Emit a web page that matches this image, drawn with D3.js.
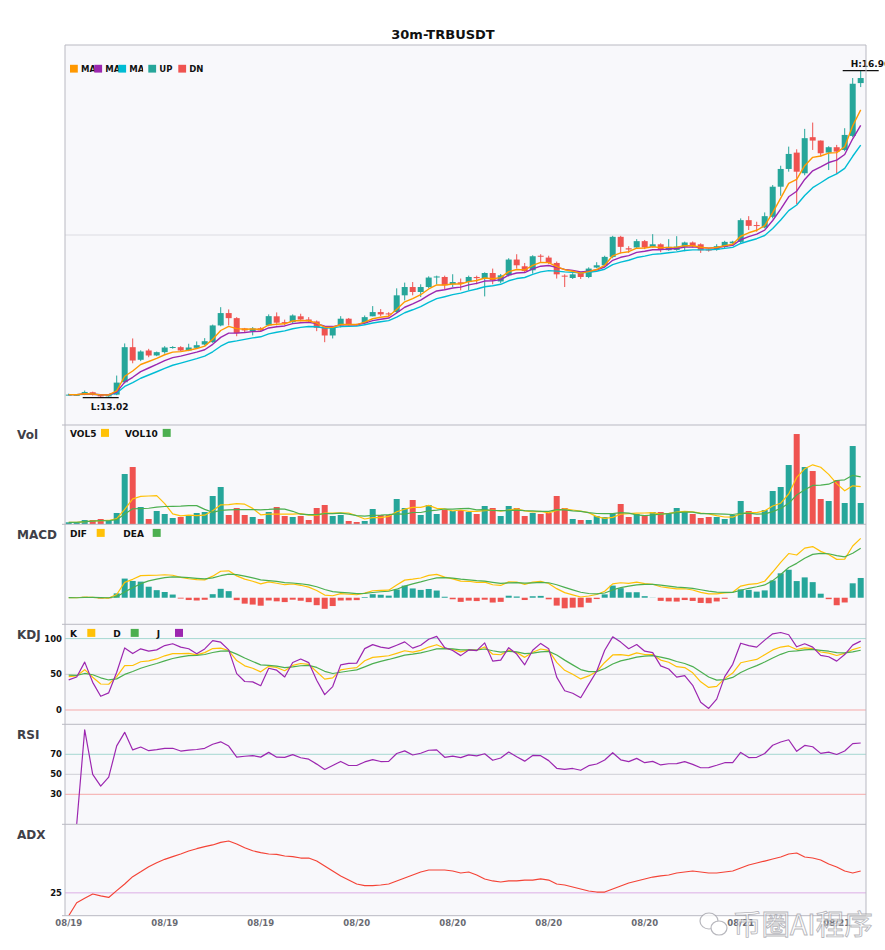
<!DOCTYPE html>
<html>
<head>
<meta charset="utf-8">
<script src="https://cdn.jsdelivr.net/npm/d3@7"></script>
<style>
  body { margin: 0; background: #fff; }
  svg { display: block; font-family: "DejaVu Sans", sans-serif; }
</style>
</head>
<body>
<svg id="chart" width="885" height="950"></svg>
<script>
// ---- data (30m candles, TRBUSDT) ----
const symbolTitle = "30m-TRBUSDT";

const opens = [13.052,13.050,13.056,13.085,13.052,13.035,13.056,13.205,13.628,13.476,
  13.588,13.528,13.568,13.624,13.628,13.588,13.620,13.660,13.688,13.890,
  14.039,13.978,13.854,13.818,13.856,13.890,14.000,13.930,13.930,14.000,
  13.962,13.938,13.862,13.769,13.890,13.971,13.905,13.918,14.000,14.051,
  14.035,14.051,14.253,14.353,14.293,14.353,14.470,14.474,14.386,14.410,
  14.413,14.474,14.454,14.522,14.420,14.494,14.684,14.603,14.555,14.730,
  14.708,14.643,14.490,14.462,14.522,14.474,14.588,14.615,14.716,14.958,
  14.820,14.830,14.906,14.837,14.868,14.797,14.800,14.837,14.890,14.868,
  14.805,14.805,14.837,14.880,14.897,15.159,15.100,15.070,15.199,15.562,
  15.776,15.973,15.724,16.159,16.118,15.973,16.038,16.005,16.174,16.811];

const highs = [13.068,13.062,13.105,13.092,13.056,13.060,13.286,13.673,13.733,13.590,
  13.608,13.575,13.640,13.640,13.640,13.669,13.697,13.737,13.900,14.110,
  14.083,13.990,13.860,13.870,13.870,14.023,14.047,13.960,14.023,14.031,
  13.990,13.950,13.866,13.870,14.002,13.980,13.910,14.010,14.123,14.087,
  14.050,14.337,14.406,14.413,14.386,14.482,14.490,14.490,14.507,14.455,
  14.490,14.490,14.530,14.575,14.510,14.700,14.748,14.643,14.736,14.748,
  14.730,14.660,14.506,14.520,14.530,14.590,14.652,14.730,14.970,14.970,
  14.845,14.930,14.920,14.990,14.880,14.930,14.966,14.900,14.902,14.880,
  14.820,14.869,14.910,14.910,15.180,15.207,15.140,15.252,15.582,15.815,
  16.045,16.013,16.259,16.335,16.120,16.050,16.066,16.267,16.872,16.960];

const lows = [13.048,13.040,13.050,13.045,13.020,13.030,13.050,13.190,13.434,13.460,
  13.507,13.520,13.550,13.610,13.580,13.580,13.615,13.650,13.680,13.880,
  13.890,13.760,13.810,13.770,13.820,13.880,13.890,13.890,13.920,13.940,
  13.930,13.821,13.688,13.733,13.866,13.890,13.890,13.900,14.000,14.002,
  14.000,14.040,14.192,14.253,14.232,14.340,14.386,14.325,14.353,14.313,
  14.313,14.386,14.240,14.386,14.400,14.480,14.575,14.522,14.515,14.655,
  14.630,14.455,14.353,14.450,14.450,14.460,14.580,14.600,14.700,14.757,
  14.764,14.820,14.810,14.830,14.772,14.790,14.790,14.784,14.830,14.764,
  14.780,14.790,14.820,14.850,14.880,15.040,15.020,15.060,15.180,15.453,
  15.743,15.352,15.700,16.005,15.924,15.763,15.715,15.990,16.159,16.763];

const closes = [13.056,13.054,13.088,13.056,13.035,13.050,13.201,13.628,13.467,13.576,
  13.528,13.568,13.624,13.630,13.588,13.624,13.652,13.700,13.890,14.039,
  13.978,13.797,13.830,13.854,13.830,14.002,13.923,13.920,14.010,13.962,
  13.940,13.862,13.769,13.862,13.971,13.900,13.900,13.990,14.051,14.023,
  14.028,14.253,14.353,14.293,14.353,14.467,14.480,14.374,14.413,14.390,
  14.474,14.460,14.522,14.434,14.494,14.684,14.615,14.546,14.724,14.720,
  14.643,14.506,14.485,14.506,14.474,14.575,14.615,14.716,14.958,14.837,
  14.805,14.906,14.830,14.868,14.805,14.837,14.840,14.890,14.848,14.796,
  14.800,14.845,14.897,14.900,15.159,15.090,15.097,15.207,15.562,15.776,
  15.957,15.743,16.147,16.118,15.965,16.038,15.985,16.186,16.803,16.872];

// volume in thousands
const volumes = [2,2,4.3,4.3,5.3,3.3,11.3,50.3,57.3,17.3,
  5.3,13.3,10.3,6.3,7.3,8.3,11.3,12.3,28.3,37.3,
  9.3,16.3,9.3,7.3,5.3,12.3,17.3,8.3,7.3,8.3,
  4.3,16.3,19.3,8.3,9.3,3.3,2.3,3.3,15.3,9.3,
  9.3,25.3,16.3,24.3,9.3,19.3,10.3,14.3,13.3,14.3,
  12.3,10.3,18.3,16.3,8.3,18.3,16.3,8.3,11.3,10.3,
  11.3,28.3,16.3,5.3,4.3,4.3,8.3,7.3,10.3,20.3,
  7.3,10.3,8.3,12.3,12.3,11.3,16.3,12.3,10.3,6.3,
  7.3,7.3,5.3,9.3,23.3,13.3,7.3,14.3,33.3,37.3,
  59.3,90.3,57.3,53.3,25.3,23.3,44.3,21.3,78.3,21.3];

const adxValues = [0,14.2,19,23.7,21.6,20,27.4,34.7,42.7,48,
  53.6,58,61.7,64.6,67.5,70.8,73.3,75.5,77.4,80.3,
  81.7,78.5,74.4,71.1,69,67.5,67,65.3,64.6,63.1,
  63.1,59.8,54.4,48.9,43.5,39,34.7,33,33,33.6,
  34.7,38,41.2,44.5,47.8,50,50,50,48.9,46.7,
  47.8,44.5,40.2,38,36.9,38,38,39,39,40.2,
  39,34.7,33.6,31.4,29.2,27,25.9,25.9,29.2,32.5,
  35.8,38,40.2,42.3,43.5,44.5,46.7,47.8,48.9,47.8,
  46.7,46.7,47.8,48.9,52.2,55.5,57.7,59.8,62,64.2,
  67.5,68.6,64.2,63.1,60.9,56.6,53.3,48.9,46.7,48.9];

const tickLabels = ["08/19","08/19","08/19","08/20","08/20","08/20","08/20","08/21","08/21"];
const tickStep = 12;

const priceDomain = [12.69, 17.27];
const maPeriods = [5, 8, 13];
const macdParams = [6, 13, 5];
const kdjGrid = [100, 50, 0];
const rsiGrid = [70, 50, 30];
const adxGrid = [25];

// ---- colors ----
const UP = "#26a69a", DN = "#ef5350";
const C_MA5 = "#ff9800", C_MA10 = "#9c27b0", C_MA20 = "#00bcd4";
const C_YEL = "#ffc107", C_GRN = "#4caf50", C_PUR = "#9c27b0", C_ADX = "#f44336";
const GRID_HI = "#a6d8d2", GRID_MID = "#cfcfd6", GRID_LO = "#f5a9a9";

// ---- indicator helpers ----
function ema(values, period) {
  const k = 2 / (period + 1);
  let prev = values[0];
  return values.map((v, i) => (i === 0 ? prev : (prev = prev + k * (v - prev))));
}
function sma(values, period) {
  return values.map((v, i) => d3.mean(values.slice(Math.max(0, i - period + 1), i + 1)));
}

const N = closes.length;
const [maA, maB, maC] = maPeriods.map(p => ema(closes, p));
const vol5 = sma(volumes, 5), vol10 = sma(volumes, 10);

const emaFast = ema(closes, macdParams[0]), emaSlow = ema(closes, macdParams[1]);
const dif = closes.map((c, i) => emaFast[i] - emaSlow[i]);
const dea = ema(dif, macdParams[2]);
const macdHist = dif.map((d, i) => 2 * (d - dea[i]));

// KDJ (9,3,3)
const kVals = [], dVals = [], jVals = [];
{
  let k = 50, d = 50;
  closes.forEach((c, i) => {
    const lo = d3.min(lows.slice(Math.max(0, i - 8), i + 1));
    const hi = d3.max(highs.slice(Math.max(0, i - 8), i + 1));
    const rsv = hi === lo ? 50 : (c - lo) / (hi - lo) * 100;
    k = (2 * k + rsv) / 3;
    d = (2 * d + k) / 3;
    kVals.push(k); dVals.push(d); jVals.push(3 * k - 2 * d);
  });
}

// RSI(14), Wilder smoothing, running mean while warming up
const rsiVals = [null];
{
  let avgG = 0, avgL = 0;
  for (let i = 1; i < N; i++) {
    const ch = closes[i] - closes[i - 1];
    const n = Math.min(i, 14);
    avgG = (avgG * (n - 1) + Math.max(ch, 0)) / n;
    avgL = (avgL * (n - 1) + Math.max(-ch, 0)) / n;
    rsiVals.push(avgG + avgL === 0 ? 50 : 100 * avgG / (avgG + avgL));
  }
}

// ---- layout ----
const svg = d3.select("#chart");
const plotLeft = 65, plotRight = 866;
const panels = {
  price: { top: 45,    bottom: 425 },
  vol:   { top: 425,   bottom: 524.3 },
  macd:  { top: 524.3, bottom: 624.3 },
  kdj:   { top: 624.3, bottom: 724.3 },
  rsi:   { top: 724.3, bottom: 824.3 },
  adx:   { top: 824.3, bottom: 915.7 }
};

const x = d3.scaleBand()
  .domain(d3.range(N))
  .range([64.7, 864.7])
  .paddingInner(0.25)
  .paddingOuter(0.125);
const cx = i => x(i) + x.bandwidth() / 2;
const bw = x.bandwidth();

const yPrice = d3.scaleLinear().domain(priceDomain).range([panels.price.bottom, panels.price.top]);
const yVol = d3.scaleLinear().domain([0, d3.max(volumes) * 1.1]).range([panels.vol.bottom, panels.vol.top]);
const macdMin = d3.min([...dif, ...dea, ...macdHist]);
const macdMax = d3.max([...dif, ...dea, ...macdHist]);
const macdR = macdMax - macdMin;
const yMacd = d3.scaleLinear().domain([macdMin - 0.22 * macdR, macdMax + 0.2 * macdR]).range([panels.macd.bottom, panels.macd.top]);
const yKdj = d3.scaleLinear().domain([-20, 120]).range([panels.kdj.bottom, panels.kdj.top]);
const yRsi = d3.scaleLinear().domain([0, 100]).range([panels.rsi.bottom, panels.rsi.top]);
const yAdx = d3.scaleLinear().domain([0, 100]).range([panels.adx.bottom, panels.adx.top]);

// backgrounds + clips
const defs = svg.append("defs");
svg.append("rect")
  .attr("x", plotLeft).attr("y", panels.price.top)
  .attr("width", plotRight - plotLeft).attr("height", panels.adx.bottom - panels.price.top)
  .attr("fill", "#f8f8fb");

Object.entries(panels).forEach(([key, p]) => {
  defs.append("clipPath").attr("id", "clip-" + key)
    .append("rect")
    .attr("x", plotLeft).attr("y", p.top)
    .attr("width", plotRight - plotLeft).attr("height", p.bottom - p.top);
});

// title
svg.append("text")
  .attr("x", 443).attr("y", 39)
  .attr("text-anchor", "middle")
  .attr("font-size", 13).attr("font-weight", "bold").attr("fill", "#111")
  .text(symbolTitle);

function panelGroup(key) {
  return svg.append("g").attr("clip-path", `url(#clip-${key})`);
}
function hline(g, y, color) {
  g.append("line")
    .attr("x1", plotLeft).attr("x2", plotRight)
    .attr("y1", y).attr("y2", y)
    .attr("stroke", color).attr("stroke-width", 1);
}
function drawLine(g, values, yScale, color, width) {
  g.append("path")
    .datum(values)
    .attr("fill", "none")
    .attr("stroke", color)
    .attr("stroke-width", width || 1.2)
    .attr("stroke-linejoin", "round")
    .attr("d", d3.line()
      .defined(d => d != null)
      .x((d, i) => cx(i))
      .y(d => yScale(d)));
}

// ---- price panel ----
const gPrice = panelGroup("price");
hline(gPrice, yPrice(d3.mean(priceDomain)), "#dcdce2");

const candles = gPrice.selectAll("g.candle")
  .data(d3.range(N))
  .join("g")
  .attr("class", "candle");
candles.append("line")
  .attr("x1", i => cx(i)).attr("x2", i => cx(i))
  .attr("y1", i => yPrice(highs[i])).attr("y2", i => yPrice(lows[i]))
  .attr("stroke", i => closes[i] >= opens[i] ? UP : DN)
  .attr("stroke-width", 1);
candles.append("rect")
  .attr("x", i => x(i))
  .attr("width", bw)
  .attr("y", i => yPrice(Math.max(opens[i], closes[i])))
  .attr("height", i => Math.max(1, Math.abs(yPrice(opens[i]) - yPrice(closes[i]))))
  .attr("fill", i => closes[i] >= opens[i] ? UP : DN);

drawLine(gPrice, maC, yPrice, C_MA20, 1.4);
drawLine(gPrice, maB, yPrice, C_MA10, 1.4);
drawLine(gPrice, maA, yPrice, C_MA5, 1.4);

// high / low markers
const hiIdx = d3.maxIndex(highs), loIdx = d3.minIndex(lows);
[[hiIdx, highs[hiIdx], "H", -4], [loIdx, lows[loIdx], "L", 12.5]].forEach(([i, v, tag, dy]) => {
  svg.append("line")
    .attr("x1", cx(i) - 18).attr("x2", cx(i) + 18)
    .attr("y1", yPrice(v)).attr("y2", yPrice(v))
    .attr("stroke", "#111").attr("stroke-width", 1.3);
  svg.append("text")
    .attr("x", cx(i) - 10).attr("y", yPrice(v) + dy)
    .attr("font-size", 9).attr("font-weight", "bold").attr("fill", "#111")
    .text(`${tag}:${v.toFixed(2)}`);
});

// price legend (labels overlap like the reference)
const priceLegend = [
  { label: "MA" + maPeriods[0], color: C_MA5, x: 70 },
  { label: "MA" + maPeriods[1], color: C_MA10, x: 94.3 },
  { label: "MA" + maPeriods[2], color: C_MA20, x: 118.3 },
  { label: "UP", color: UP, x: 148.3 },
  { label: "DN", color: DN, x: 178.3 }
];
priceLegend.forEach((item, k) => {
  const clipW = k < priceLegend.length - 1 ? 13.8 : 40;
  defs.append("clipPath").attr("id", "leg-clip-" + k)
    .append("rect").attr("x", item.x + 11).attr("y", 60).attr("width", clipW).attr("height", 16);
  svg.append("text")
    .attr("x", item.x + 11).attr("y", 72.3)
    .attr("clip-path", `url(#leg-clip-${k})`)
    .attr("font-size", 8.5).attr("font-weight", "bold").attr("fill", "#111")
    .text(item.label);
  svg.append("rect")
    .attr("x", item.x).attr("y", 64.8).attr("width", 7.8).attr("height", 7.8)
    .attr("fill", item.color);
});

// ---- volume panel ----
const gVol = panelGroup("vol");
gVol.selectAll("rect.vol")
  .data(d3.range(N))
  .join("rect")
  .attr("class", "vol")
  .attr("x", i => x(i)).attr("width", bw)
  .attr("y", i => yVol(volumes[i]))
  .attr("height", i => yVol(0) - yVol(volumes[i]))
  .attr("fill", i => closes[i] >= opens[i] ? UP : DN);
drawLine(gVol, vol5, yVol, C_YEL, 1.2);
drawLine(gVol, vol10, yVol, C_GRN, 1.2);

// ---- MACD panel ----
const gMacd = panelGroup("macd");
gMacd.selectAll("rect.hist")
  .data(d3.range(N))
  .join("rect")
  .attr("class", "hist")
  .attr("x", i => x(i)).attr("width", bw)
  .attr("y", i => Math.min(yMacd(0), yMacd(macdHist[i])))
  .attr("height", i => Math.abs(yMacd(macdHist[i]) - yMacd(0)))
  .attr("fill", i => macdHist[i] >= 0 ? UP : DN);
drawLine(gMacd, dif, yMacd, C_YEL, 1.2);
drawLine(gMacd, dea, yMacd, C_GRN, 1.2);

// ---- KDJ panel ----
const gKdj = panelGroup("kdj");
[GRID_HI, GRID_MID, GRID_LO].forEach((c, k) => hline(gKdj, yKdj(kdjGrid[k]), c));
drawLine(gKdj, kVals, yKdj, C_YEL, 1.2);
drawLine(gKdj, dVals, yKdj, C_GRN, 1.2);
drawLine(gKdj, jVals, yKdj, C_PUR, 1.2);

// ---- RSI panel ----
const gRsi = panelGroup("rsi");
[GRID_HI, GRID_MID, GRID_LO].forEach((c, k) => hline(gRsi, yRsi(rsiGrid[k]), c));
drawLine(gRsi, rsiVals, yRsi, C_PUR, 1.2);

// ---- ADX panel ----
const gAdx = panelGroup("adx");
hline(gAdx, yAdx(adxGrid[0]), "#dcaee6");
drawLine(gAdx, adxValues, yAdx, C_ADX, 1.2);

// ---- y tick labels ----
function tickLabelsFor(values, yScale) {
  values.forEach(v => {
    svg.append("text")
      .attr("x", 62).attr("y", yScale(v))
      .attr("dy", "0.35em")
      .attr("text-anchor", "end")
      .attr("font-size", 8.5).attr("font-weight", "bold").attr("fill", "#111")
      .text(v);
  });
}
tickLabelsFor(kdjGrid, yKdj);
tickLabelsFor(rsiGrid, yRsi);
tickLabelsFor(adxGrid, yAdx);

// ---- frame ----
const frame = svg.append("g").attr("stroke", "#b9b9c2").attr("stroke-width", 1).attr("fill", "none");
frame.append("line").attr("x1", plotLeft).attr("x2", plotRight).attr("y1", panels.price.top).attr("y2", panels.price.top);
frame.append("line").attr("x1", plotLeft).attr("x2", plotLeft).attr("y1", panels.price.top).attr("y2", panels.adx.bottom);
frame.append("line").attr("x1", plotRight).attr("x2", plotRight).attr("y1", panels.price.top).attr("y2", panels.adx.bottom);
[panels.vol.top, panels.macd.top, panels.kdj.top, panels.rsi.top, panels.adx.top, panels.adx.bottom].forEach(y => {
  frame.append("line").attr("x1", plotLeft - 3).attr("x2", plotRight).attr("y1", y).attr("y2", y);
});

// panel names
const panelNames = [["Vol", 439], ["MACD", 539], ["KDJ", 639], ["RSI", 739], ["ADX", 839]];
panelNames.forEach(([name, y]) => {
  svg.append("text")
    .attr("x", 17).attr("y", y)
    .attr("font-size", 12).attr("font-weight", "bold").attr("fill", "#404048")
    .text(name);
});

// indicator legends: text then swatch
const indLegends = [
  { y: 436.7, items: [["VOL5", 70, 101, C_YEL], ["VOL10", 125, 162.7, C_GRN]] },
  { y: 536.7, items: [["DIF", 70, 96.7, C_YEL], ["DEA", 123.3, 152.7, C_GRN]] },
  { y: 636.7, items: [["K", 70, 87.3, C_YEL], ["D", 113.3, 130.7, C_GRN], ["J", 156.7, 175, C_PUR]] }
];
indLegends.forEach(row => {
  row.items.forEach(([label, tx, sx, color]) => {
    svg.append("text")
      .attr("x", tx).attr("y", row.y)
      .attr("font-size", 9).attr("font-weight", "bold").attr("fill", "#111")
      .text(label);
    svg.append("rect")
      .attr("x", sx).attr("y", row.y - 7.8).attr("width", 8).attr("height", 8)
      .attr("fill", color);
  });
});

// x axis labels
tickLabels.forEach((label, k) => {
  svg.append("text")
    .attr("x", cx(k * tickStep)).attr("y", 925.5)
    .attr("text-anchor", "middle")
    .attr("font-size", 8.5).attr("font-weight", "bold").attr("fill", "#6a6a72")
    .text(label);
});

// watermark
const wm = svg.append("g").attr("opacity", 0.7);
wm.append("ellipse").attr("cx", 709).attr("cy", 921).attr("rx", 9).attr("ry", 8)
  .attr("fill", "#fff").attr("stroke", "#9a9aa2").attr("stroke-width", 1.2);
wm.append("ellipse").attr("cx", 719).attr("cy", 928).attr("rx", 8).attr("ry", 7)
  .attr("fill", "#fff").attr("stroke", "#9a9aa2").attr("stroke-width", 1.2);
wm.append("text")
  .attr("x", 733).attr("y", 935)
  .attr("font-family", "'Noto Sans CJK SC', sans-serif")
  .attr("font-size", 28.5)
  .attr("fill", "#ffffff").attr("stroke", "#9a9aa2").attr("stroke-width", 0.9)
  .text("币圈AI程序");
</script>
</body>
</html>
